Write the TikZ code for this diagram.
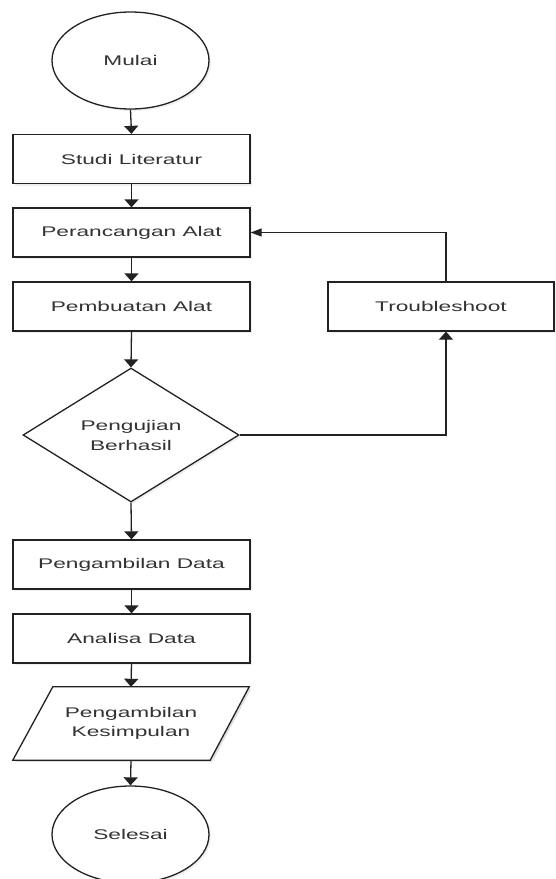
\documentclass[tikz,border=0pt]{standalone}
\usepackage{fontspec}
\setmainfont{Liberation Sans}
\usetikzlibrary{shapes.geometric,arrows.meta,shadows}
\definecolor{txt}{HTML}{333333}
\definecolor{ln}{HTML}{222222}
\newcommand{\sx}[1]{\scalebox{1.62}[1]{#1}}
\tikzset{
  base/.style={draw=ln, line width=1.3pt, fill=white, text=txt, inner sep=0pt,
    font=\fontsize{14}{19}\selectfont, align=center,
    drop shadow={shadow xshift=2pt, shadow yshift=-2pt, opacity=0.12}},
  terminal/.style={base, ellipse, minimum width=157pt, minimum height=97pt},
  procbox/.style={base, rectangle, minimum width=237pt, minimum height=49pt},
  decide/.style={base, diamond, minimum width=216pt, minimum height=134pt},
  plain/.style={inner sep=0pt, text=txt, font=\fontsize{14}{19}\selectfont, align=center,
    minimum width=236pt, minimum height=73pt},
  arr/.style={draw=ln, line width=1.3pt, -{Triangle[width=14pt,length=8pt]}},
  arrh/.style={draw=ln, line width=1.3pt, -{Triangle[width=8pt,length=11pt]}}
}
\begin{document}
\begin{tikzpicture}[x=1pt,y=-1pt]
\useasboundingbox (0,0) rectangle (556,879);
\fill[white] (0,0) rectangle (556,879);

\node[terminal] (mulai) at (130.5,60.5) {\sx{Mulai}};
\node[procbox] (studi) at (131.5,159) {\sx{Studi Literatur}};
\node[procbox] (peran) at (131.5,232.5) {\sx{Perancangan Alat}};
\node[procbox] (pemb) at (131.5,306.5) {\sx{Pembuatan Alat}};
\node[base, rectangle, minimum width=226pt, minimum height=49pt] (trouble) at (441,306.5) {\sx{Troubleshoot}};
\node[decide] (uji) at (131,435) {\sx{Pengujian}\\[1pt]\sx{Berhasil}};
\node[procbox] (pdata) at (131.5,564.5) {\sx{Pengambilan Data}};
\node[procbox] (analisa) at (131.5,638.5) {\sx{Analisa Data}};
\node[plain] (kes) at (131,723.5) {};
\fill[black, opacity=0.12] ([xshift=42pt,yshift=-2pt]kes.north west) -- ([xshift=2pt,yshift=-2pt]kes.north east) -- ([xshift=-37pt,yshift=-2pt]kes.south east) -- ([xshift=2pt,yshift=-2pt]kes.south west) -- cycle;
\filldraw[draw=ln, fill=white, line width=1.3pt, line join=miter] ([xshift=40pt]kes.north west) -- (kes.north east) -- ([xshift=-39pt]kes.south east) -- (kes.south west) -- cycle;
\node[plain] at (kes.center) {\sx{Pengambilan}\\\sx{Kesimpulan}};
\node[terminal] (selesai) at (130.5,834.5) {\sx{Selesai}};

\draw[arr] (mulai.south) -- (studi.north);
\draw[arr] (studi.south) -- (peran.north);
\draw[arr] (peran.south) -- (pemb.north);
\draw[arr] (pemb.south) -- (uji.north);
\draw[arr] (uji.south) -- (pdata.north);
\draw[arr] (pdata.south) -- (analisa.north);
\draw[arr] (analisa.south) -- (kes.north);
\draw[arr] (kes.south) -- (selesai.north);
\draw[arr] (uji.east) -| ([xshift=5pt]trouble.south);
\draw[arrh] ([xshift=5pt]trouble.north) |- (peran.east);
\end{tikzpicture}
\end{document}
